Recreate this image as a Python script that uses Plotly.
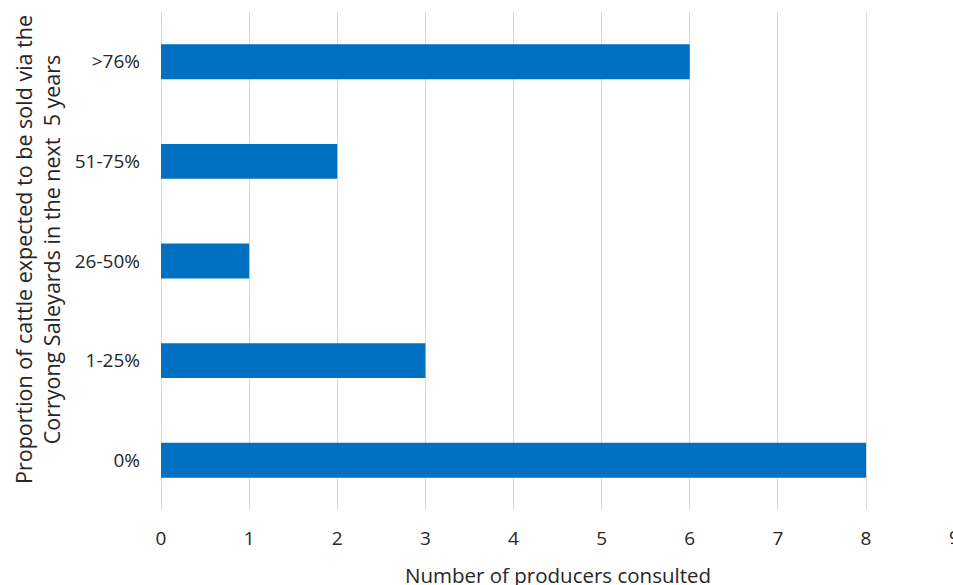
import plotly.graph_objects as go

# Survey responses: share of cattle expected to go through Corryong Saleyards
categories = ["0%", "1-25%", "26-50%", "51-75%", ">76%"]
producers = [8, 3, 1, 2, 6]
x_ticks = [0, 1, 2, 3, 4, 5, 6, 7, 8]

BAR_COLOR = "#0070C0"
TEXT_COLOR = "#262626"
FONT = "Open Sans"
TICK_SIZE = 19
TITLE_SIZE = 20.5
YTITLE_SIZE = 21.5

W, H = 953, 585
L, R, T, B = 161, 0, 12, 75
x_max = 8.987  # axis continues to 9 just past the right edge

fig = go.Figure(
    go.Bar(
        x=producers,
        y=categories,
        orientation="h",
        marker=dict(color=BAR_COLOR, line=dict(width=0)),
    )
)

fig.update_layout(
    width=W,
    height=H,
    margin=dict(l=L, r=R, t=T, b=B, pad=0),
    paper_bgcolor="white",
    plot_bgcolor="white",
    bargap=0.65,
    showlegend=False,
    font=dict(family=FONT, size=TICK_SIZE, color=TEXT_COLOR),
    xaxis=dict(
        range=[0, x_max],
        tickvals=x_ticks,
        showgrid=True,
        gridcolor="#d9d9d9",
        gridwidth=1,
        zeroline=True,
        zerolinecolor="#d9d9d9",
        zerolinewidth=1,
        showline=False,
        ticks="",
        ticklabelstandoff=15,
        fixedrange=True,
    ),
    yaxis=dict(
        categoryorder="array",
        categoryarray=categories,
        showgrid=False,
        zeroline=False,
        showline=False,
        ticks="",
        ticklabelstandoff=20,
        fixedrange=True,
    ),
    annotations=[
        # tick label for 9, sitting on the right edge
        dict(
            text="9", x=9 / x_max, y=0, xref="paper", yref="paper",
            xanchor="center", yanchor="middle", yshift=-27,
            showarrow=False, font=dict(size=TICK_SIZE, color=TEXT_COLOR),
        ),
        dict(
            text="Number of producers consulted",
            x=(9 / x_max) / 2, y=0, xref="paper", yref="paper",
            xanchor="center", yanchor="middle", yshift=-65,
            showarrow=False, font=dict(size=TITLE_SIZE, color=TEXT_COLOR),
        ),
        dict(
            text="Proportion of cattle expected to be sold via the<br>Corryong Saleyards in the next  5 years",
            x=0, y=0.5, xref="paper", yref="paper",
            xanchor="center", yanchor="middle",
            xshift=37 - L, yshift=261 - 250,
            showarrow=False, textangle=-90,
            font=dict(size=YTITLE_SIZE, color=TEXT_COLOR),
        ),
    ],
)

fig.write_html("out.html")
